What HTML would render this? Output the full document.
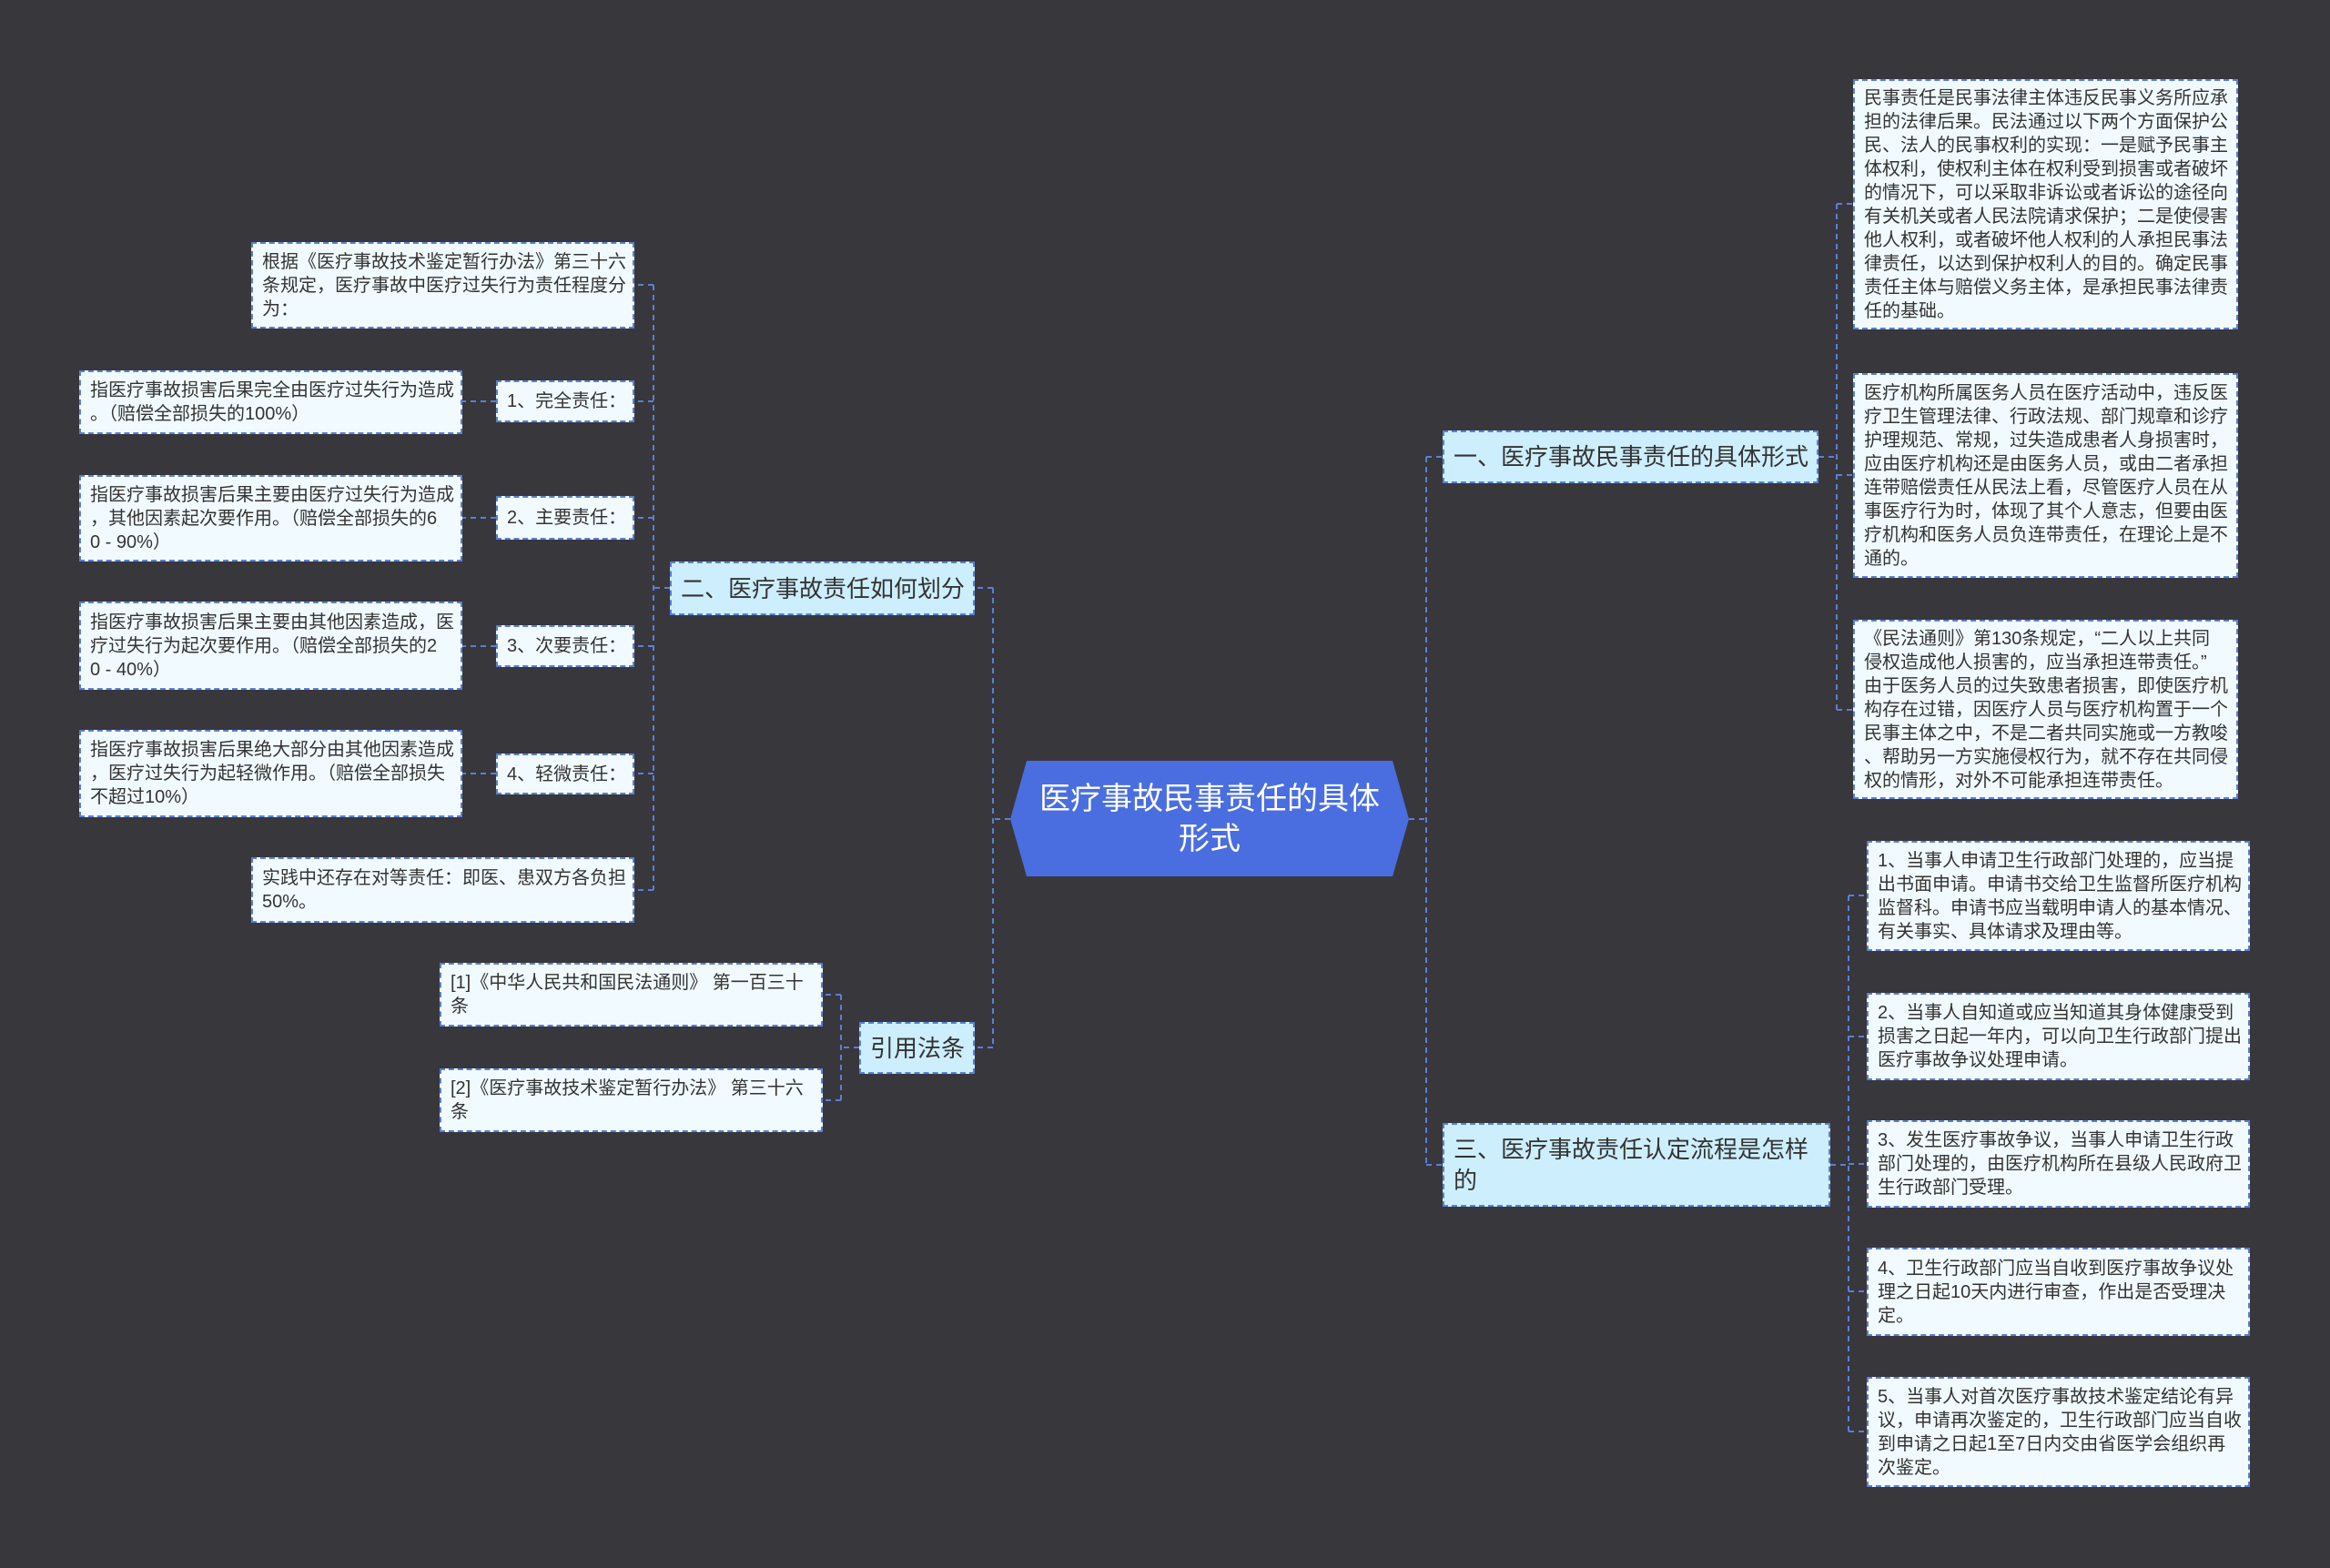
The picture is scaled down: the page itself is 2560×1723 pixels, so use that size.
<!DOCTYPE html>
<html><head><meta charset="utf-8"><style>
body{margin:0;width:2560px;height:1723px;background:#38373b;position:relative;overflow:hidden;font-family:"Liberation Sans","Noto Sans CJK SC",sans-serif;}
.n{position:absolute;box-sizing:border-box;border:2px dashed #5b7fd6;background:#f1fbff;color:#333;font-size:20px;line-height:26px;padding:6px 10px;white-space:nowrap;display:flex;flex-direction:column;justify-content:center;}
.l1{background:#cdeefc;font-size:26px;line-height:34px;color:#333;}
svg{position:absolute;left:0;top:0;}
.c{position:absolute;left:1110px;top:836px;width:438px;height:127px;color:#fff;font-size:34px;line-height:44px;text-align:center;display:flex;align-items:center;justify-content:center;}
</style></head><body>
<svg width="2560" height="1723">
<polygon points="1128,836 1530,836 1548,900 1530,963 1128,963 1110,900" fill="#4a6ee0"/>
<g fill="none" stroke="#5b7fd6" stroke-width="2" stroke-dasharray="6,5">
<path d="M1548 900 H1567 M1567 502 V1280 M1567 502 H1585 M1567 1280 H1585"/>
<path d="M1110 900 H1091 M1091 646 V1151 M1091 646 H1071 M1091 1151 H1071"/>
<path d="M736 646 H718 M718 313 V978 M718 313 H697 M718 441 H697 M718 569 H697 M718 710 H697 M718 850 H697 M718 978 H697"/>
<path d="M545 441 H508 M545 569 H508 M545 710 H508 M545 850 H508"/>
<path d="M1998 502 H2018 M2018 224 V780 M2018 224 H2036 M2018 522 H2036 M2018 780 H2036"/>
<path d="M2011 1280 H2031 M2031 984 V1573 M2031 984 H2051 M2031 1139 H2051 M2031 1279 H2051 M2031 1419 H2051 M2031 1573 H2051"/>
<path d="M944 1151 H924 M924 1093 V1209 M924 1093 H904 M924 1209 H904"/>
</g></svg>
<div class="c">医疗事故民事责任的具体<br>形式</div>
<div class="n l1" style="left:1585px;top:473px;width:413px;height:58px">一、医疗事故民事责任的具体形式</div>
<div class="n l1" style="left:1585px;top:1234px;width:426px;height:92px">三、医疗事故责任认定流程是怎样<br>的</div>
<div class="n l1" style="left:736px;top:617px;width:335px;height:59px">二、医疗事故责任如何划分</div>
<div class="n l1" style="left:944px;top:1123px;width:127px;height:57px">引用法条</div>

<div class="n" style="left:2036px;top:87px;width:423px;height:275px">民事责任是民事法律主体违反民事义务所应承<br>担的法律后果。民法通过以下两个方面保护公<br>民、法人的民事权利的实现：一是赋予民事主<br>体权利，使权利主体在权利受到损害或者破坏<br>的情况下，可以采取非诉讼或者诉讼的途径向<br>有关机关或者人民法院请求保护；二是使侵害<br>他人权利，或者破坏他人权利的人承担民事法<br>律责任，以达到保护权利人的目的。确定民事<br>责任主体与赔偿义务主体，是承担民事法律责<br>任的基础。</div>
<div class="n" style="left:2036px;top:410px;width:423px;height:225px">医疗机构所属医务人员在医疗活动中，违反医<br>疗卫生管理法律、行政法规、部门规章和诊疗<br>护理规范、常规，过失造成患者人身损害时，<br>应由医疗机构还是由医务人员，或由二者承担<br>连带赔偿责任从民法上看，尽管医疗人员在从<br>事医疗行为时，体现了其个人意志，但要由医<br>疗机构和医务人员负连带责任，在理论上是不<br>通的。</div>
<div class="n" style="left:2036px;top:681px;width:423px;height:197px">《民法通则》第130条规定，“二人以上共同<br>侵权造成他人损害的，应当承担连带责任。”<br>由于医务人员的过失致患者损害，即使医疗机<br>构存在过错，因医疗人员与医疗机构置于一个<br>民事主体之中，不是二者共同实施或一方教唆<br>、帮助另一方实施侵权行为，就不存在共同侵<br>权的情形，对外不可能承担连带责任。</div>

<div class="n" style="left:2051px;top:924px;width:421px;height:121px">1、当事人申请卫生行政部门处理的，应当提<br>出书面申请。申请书交给卫生监督所医疗机构<br>监督科。申请书应当载明申请人的基本情况、<br>有关事实、具体请求及理由等。</div>
<div class="n" style="left:2051px;top:1091px;width:421px;height:96px">2、当事人自知道或应当知道其身体健康受到<br>损害之日起一年内，可以向卫生行政部门提出<br>医疗事故争议处理申请。</div>
<div class="n" style="left:2051px;top:1231px;width:421px;height:96px">3、发生医疗事故争议，当事人申请卫生行政<br>部门处理的，由医疗机构所在县级人民政府卫<br>生行政部门受理。</div>
<div class="n" style="left:2051px;top:1371px;width:421px;height:97px">4、卫生行政部门应当自收到医疗事故争议处<br>理之日起10天内进行审查，作出是否受理决<br>定。</div>
<div class="n" style="left:2051px;top:1513px;width:421px;height:121px">5、当事人对首次医疗事故技术鉴定结论有异<br>议，申请再次鉴定的，卫生行政部门应当自收<br>到申请之日起1至7日内交由省医学会组织再<br>次鉴定。</div>

<div class="n" style="left:276px;top:266px;width:421px;height:95px">根据《医疗事故技术鉴定暂行办法》第三十六<br>条规定，医疗事故中医疗过失行为责任程度分<br>为：</div>
<div class="n" style="left:545px;top:418px;width:152px;height:46px">1、完全责任：</div>
<div class="n" style="left:545px;top:545px;width:152px;height:48px">2、主要责任：</div>
<div class="n" style="left:545px;top:687px;width:152px;height:46px">3、次要责任：</div>
<div class="n" style="left:545px;top:828px;width:152px;height:45px">4、轻微责任：</div>
<div class="n" style="left:87px;top:407px;width:421px;height:70px">指医疗事故损害后果完全由医疗过失行为造成<br>。（赔偿全部损失的100%）</div>
<div class="n" style="left:87px;top:522px;width:421px;height:95px">指医疗事故损害后果主要由医疗过失行为造成<br>，其他因素起次要作用。（赔偿全部损失的6<br>0 - 90%）</div>
<div class="n" style="left:87px;top:661px;width:421px;height:97px">指医疗事故损害后果主要由其他因素造成，医<br>疗过失行为起次要作用。（赔偿全部损失的2<br>0 - 40%）</div>
<div class="n" style="left:87px;top:802px;width:421px;height:96px">指医疗事故损害后果绝大部分由其他因素造成<br>，医疗过失行为起轻微作用。（赔偿全部损失<br>不超过10%）</div>
<div class="n" style="left:276px;top:942px;width:421px;height:72px">实践中还存在对等责任：即医、患双方各负担<br>50%。</div>

<div class="n" style="left:483px;top:1058px;width:421px;height:70px">[1]《中华人民共和国民法通则》 第一百三十<br>条</div>
<div class="n" style="left:483px;top:1174px;width:421px;height:70px">[2]《医疗事故技术鉴定暂行办法》 第三十六<br>条</div>
</body></html>
